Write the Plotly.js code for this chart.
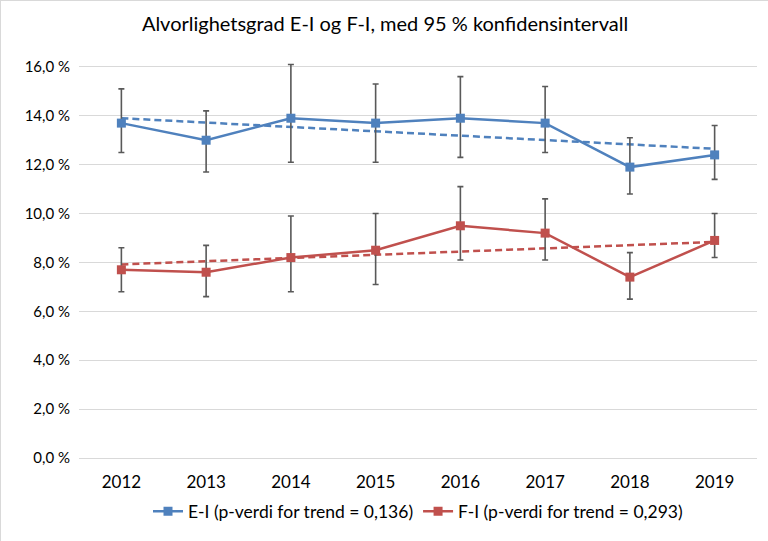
<!DOCTYPE html>
<html>
<head>
<meta charset="utf-8">
<script src="https://cdn.plot.ly/plotly-3.0.1.min.js"></script>
<style>
html,body{margin:0;padding:0;background:#fff;}
#chart{width:768px;height:541px;box-sizing:border-box;border:1px solid #d9d9d9;}
</style>
</head>
<body>
<div id="chart"></div>
<script>
const years = ["2012","2013","2014","2015","2016","2017","2018","2019"];
const eiValues = [13.7, 13.0, 13.9, 13.7, 13.9, 13.7, 11.9, 12.4];
const eiUpper  = [15.1, 14.2, 16.1, 15.3, 15.6, 15.2, 13.1, 13.6];
const eiLower  = [12.5, 11.7, 12.1, 12.1, 12.3, 12.5, 10.8, 11.4];
const fiValues = [7.7, 7.6, 8.2, 8.5, 9.5, 9.2, 7.4, 8.9];
const fiUpper  = [8.6, 8.7, 9.9, 10.0, 11.1, 10.6, 8.4, 10.0];
const fiLower  = [6.8, 6.6, 6.8, 7.1, 8.1, 8.1, 6.5, 8.2];
const trendYears = ["2012","2019"];
const eiTrend = [13.9, 12.65];
const fiTrend = [7.92, 8.84];
const eiName = "E-I (p-verdi for trend = 0,136)";
const fiName = "F-I (p-verdi for trend = 0,293)";
const yTicks = [0,2,4,6,8,10,12,14,16];
const yTickText = yTicks.map(v => v.toFixed(1).replace(".", ",") + " %");

const blue = "#4F81BD", red = "#C0504D";
function errs(v, up, lo){
  return {type:"data", symmetric:false,
    array: up.map((u,i)=>+(u - v[i]).toFixed(3)),
    arrayminus: lo.map((l,i)=>+(v[i] - l).toFixed(3)),
    color:"#595959", thickness:1.6, width:3};
}
const data = [
  {x:trendYears, y:eiTrend, mode:"lines", line:{color:blue, width:2.5, dash:"7px,4px"}, showlegend:false, hoverinfo:"skip"},
  {x:trendYears, y:fiTrend, mode:"lines", line:{color:red, width:2.5, dash:"7px,4px"}, showlegend:false, hoverinfo:"skip"},
  {x:years, y:eiValues, name:eiName, mode:"lines+markers",
   line:{color:blue, width:2.5}, marker:{symbol:"square", size:9, color:blue},
   error_y: errs(eiValues, eiUpper, eiLower)},
  {x:years, y:fiValues, name:fiName, mode:"lines+markers",
   line:{color:red, width:2.5}, marker:{symbol:"square", size:9, color:red},
   error_y: errs(fiValues, fiUpper, fiLower)}
];
const layout = {
  width:768, height:541,
  margin:{l:78, r:12, t:61, b:78},
  paper_bgcolor:"#fff", plot_bgcolor:"#fff",
  font:{family:"Lato, 'Noto Sans', sans-serif", color:"#000", size:16},
  title:{text:"Alvorlighetsgrad E-I og F-I, med 95 % konfidensintervall", x:0.5, xanchor:"center", y:0.958, yanchor:"middle", font:{size:20, color:"#000"}},
  xaxis:{type:"category", categoryorder:"array", categoryarray:years, range:[-0.5,7.5],
    showgrid:false, showline:false, zeroline:false, ticks:"", tickfont:{size:17}, ticklabelstandoff:12},
  yaxis:{range:[0,16.2], tickmode:"array", tickvals:yTicks, ticktext:yTickText,
    showgrid:true, gridcolor:"#d9d9d9", gridwidth:1, zeroline:true, zerolinecolor:"#d9d9d9", zerolinewidth:1,
    showline:false, ticks:"", tickfont:{size:15}, ticklabelstandoff:8},
  legend:{orientation:"h", x:0.5, xanchor:"center", y:-0.135, yanchor:"middle", font:{size:17.5}, traceorder:"normal", itemwidth:30},
  showlegend:true
};
Plotly.newPlot("chart", data, layout, {displayModeBar:false, staticPlot:true});
</script>
</body>
</html>
